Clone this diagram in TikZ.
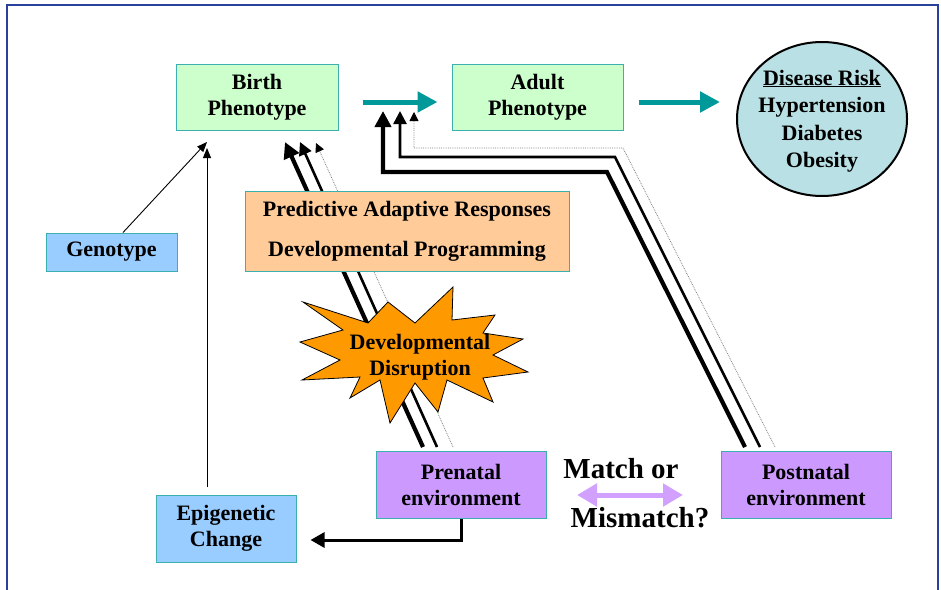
\documentclass[tikz,border=0pt]{standalone}
\usepackage{fontspec}
\setmainfont{Liberation Serif}
\usetikzlibrary{arrows.meta,shapes.geometric}
\definecolor{boxline}{RGB}{60,175,175}
\definecolor{greenfill}{RGB}{204,255,204}
\definecolor{bluefill}{RGB}{153,204,255}
\definecolor{peachfill}{RGB}{255,204,153}
\definecolor{purplefill}{RGB}{204,153,255}
\definecolor{circfill}{RGB}{185,224,228}
\definecolor{tealarrowc}{RGB}{0,153,153}
\definecolor{burstc}{RGB}{255,153,0}
\definecolor{framec}{RGB}{40,65,155}
\definecolor{mmarrow}{RGB}{210,160,255}
\pgfdeclarelayer{bg}
\pgfsetlayers{bg,main}
\tikzset{
  txt/.style={font=\fontsize{22}{26}\selectfont\bfseries, align=center},
  box/.style={txt, draw=boxline, line width=1pt, inner sep=0pt},
  tealarr/.style={draw=tealarrowc, line width=5pt, -{Triangle[width=20pt,length=20pt]}},
  thickarr/.style={line width=4.2pt, -{Triangle[width=16pt,length=16pt]}},
  medarr/.style={line width=2.6pt, -{Triangle[width=13pt,length=13pt]}},
  dotarr/.style={draw=gray, line width=0.8pt, densely dotted, -{Triangle[width=9pt,length=9pt,fill=black,color=black]}},
  thinarr/.style={line width=0.9pt, -{Triangle[width=8pt,length=10pt]}},
}
\begin{document}
\begin{tikzpicture}[x=1pt,y=-1pt]
\useasboundingbox (0,0) rectangle (941,589);
% frame
\draw[framec, line width=2.5pt] (7,600) -- (7,5) -- (938,5) -- (938,600);

% nodes
\node[box, fill=greenfill, minimum width=162pt, minimum height=66pt] (birth) at (257,97) {Birth\\Phenotype};
\node[box, fill=greenfill, minimum width=171pt, minimum height=66pt] (adult) at (537.5,97) {Adult\\Phenotype};
\node[ellipse, draw=black, line width=2pt, fill=circfill, minimum width=170pt, minimum height=154pt, inner sep=0pt] (disease) at (822,119) {};
\node[txt, inner sep=0pt, font=\fontsize{22}{27.5}\selectfont\bfseries] (diseasetext) at (822,121) {\underline{Disease Risk}\\Hypertension\\Diabetes\\Obesity};
\node[box, fill=bluefill, minimum width=131pt, minimum height=38pt] (genotype) at (111.5,252) {Genotype};
\node[box, fill=peachfill, minimum width=324pt, minimum height=80pt] (par) at (407,231) {Predictive Adaptive Responses\\[14pt]Developmental Programming};
\node[box, fill=purplefill, minimum width=170pt, minimum height=67pt] (prenatal) at (461,484.5) {Prenatal\\environment};
\node[box, fill=purplefill, minimum width=170pt, minimum height=67pt] (postnatal) at (806,484.5) {Postnatal\\environment};
\node[box, fill=bluefill, minimum width=140pt, minimum height=67pt] (epi) at (226,528.5) {Epigenetic\\Change};

% starburst
\draw[fill=burstc, line width=0.8pt, line join=miter]
  (303,302) -- (368,323) -- (388,302) -- (415,323) -- (453,287) -- (452,320)
  -- (495,315) -- (483,333) -- (523,339) -- (493,355) -- (528,372) -- (483,378)
  -- (493,402) -- (447,380) -- (438,412) -- (415,383) -- (390,423) -- (380,380)
  -- (350,398) -- (360,377) -- (302,380) -- (340,360) -- (300,342) -- (343,330) -- cycle;
\node[txt, inner sep=0pt] (burst) at (420,357) {Developmental\\Disruption};

% match or mismatch
\node[txt, font=\fontsize{29}{30}\selectfont\bfseries, inner sep=0pt] (match) at (621,469) {Match or};
\node[txt, font=\fontsize{29}{30}\selectfont\bfseries, inner sep=0pt] (mismatch) at (640,518) {Mismatch?};
\coordinate (mmL) at (577,495);
\coordinate (mmR) at (683,495);
\draw[mmarrow, line width=5pt, {Triangle[width=22pt,length=20pt]}-{Triangle[width=22pt,length=20pt]}] (mmL) -- (mmR);

% teal arrows
\draw[tealarr, shorten <=24pt, shorten >=14pt] ([yshift=-5pt]birth.east) -- ([yshift=-5pt]adult.west);
\draw[tealarr, shorten <=15pt, shorten >=16pt] ([yshift=-5pt]adult.east) -- ([yshift=-5pt]adult.east -| disease.west);

\begin{pgfonlayer}{bg}
% prenatal -> birth
\coordinate (pa1) at (423,447); \coordinate (ba1) at (285,142);
\coordinate (pa2) at (437,447); \coordinate (ba2) at (300,142);
\coordinate (pa3) at (453,447); \coordinate (ba3) at (316,143);
\draw[thickarr] (pa1) -- (ba1);
\draw[medarr] (pa2) -- (ba2);
\draw[dotarr] (pa3) -- (ba3);
% postnatal -> adult
\coordinate (qa1) at (745,447); \coordinate (qc1) at (607,172); \coordinate (aa1) at (383,111);
\coordinate (qa2) at (760,447); \coordinate (qc2) at (615,157); \coordinate (aa2) at (400,111);
\coordinate (qa3) at (775,447); \coordinate (qc3) at (623,148); \coordinate (aa3) at (414,112);
\draw[thickarr, line join=miter] (qa1) -- (qc1) -| (aa1);
\draw[medarr, line join=miter] (qa2) -- (qc2) -| (aa2);
\draw[dotarr] (qa3) -- (qc3) -| (aa3);
\end{pgfonlayer}

% genotype -> birth
\coordinate (ga) at (207,142);
\draw[thinarr] ([xshift=11.5pt]genotype.north) -- (ga);
% epigenetic -> birth
\coordinate (ea) at (207,487);
\coordinate (eb) at (207,148);
\draw[thinarr] (ea) -- (eb);
% prenatal -> epigenetic
\draw[line width=3pt, -{Triangle[width=15pt,length=14pt]}] (prenatal.south) |- ([xshift=14pt,yshift=-11.5pt]epi.east);
\end{tikzpicture}
\end{document}
